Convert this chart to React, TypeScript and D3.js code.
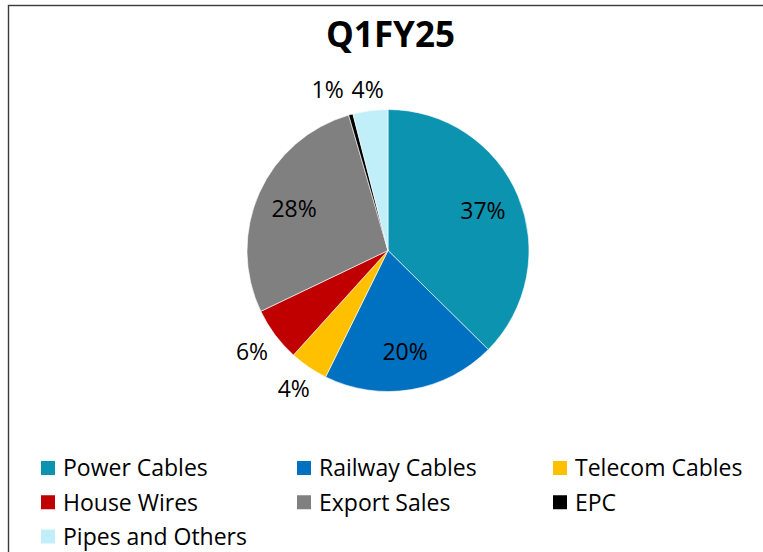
import React from "react";
import * as d3 from "d3";

const title = "Q1FY25";
const categories = [
  "Power Cables",
  "Railway Cables",
  "Telecom Cables",
  "House Wires",
  "Export Sales",
  "EPC",
  "Pipes and Others",
];
const shares = [37.4, 19.9, 4.4, 6.2, 27.6, 0.5, 4.0];
const colours = ["#0B93B0", "#0070C0", "#FFC000", "#C00000", "#808080", "#000000", "#C1EFF9"];

const width = 763;
const height = 552;
const cx = 388;
const cy = 250.5;
const radius = 141;
const font = "'Open Sans', 'Noto Sans', sans-serif";

type Label = { x: number; y: number; text: string; inside: boolean };

export default function App() {
  const total = d3.sum(shares);
  const pie = d3
    .pie<number>()
    .sort(null)
    .value((d) => d);
  const arcs = pie(shares);
  const arc = d3.arc<d3.PieArcDatum<number>>().innerRadius(0).outerRadius(radius);

  // labels: big slices inside, small ones just outside the rim
  const labels: Label[] = arcs.map((a) => {
    const pct = (a.data / total) * 100;
    const mid = (a.startAngle + a.endAngle) / 2;
    const s = Math.sin(mid);
    const c = Math.cos(mid);
    const inside = pct >= 10;
    const dist = inside ? radius * 0.73 : radius + Math.abs(s) * 16 + Math.abs(c) * 8 + 11;
    return { x: cx + dist * s, y: cy - dist * c, text: `${Math.round(pct)}%`, inside };
  });

  // push overlapping outside labels apart (tiny EPC slice next to Pipes)
  for (let i = labels.length - 2; i >= 0; i--) {
    const a = labels[i];
    const b = labels[i + 1];
    if (a.inside || b.inside) continue;
    if (Math.abs(a.y - b.y) < 18 && Math.abs(a.x - b.x) < 40) {
      a.x = b.x - 40;
      a.y = b.y;
    }
  }

  const colX = d3.scalePoint<number>().domain([0, 1, 2]).range([41, 553]);
  const rowY = d3.scalePoint<number>().domain([0, 1, 2]).range([468, 536.5]);

  return (
    <svg
      width={width}
      height={height}
      style={{ position: "absolute", left: 0, top: 0, background: "#fff" }}
    >
      <rect x={8.5} y={5.5} width={800} height={600} fill="none" stroke="#3a3a3a" strokeWidth={1.4} />
      <text
        x={390.5}
        y={47}
        textAnchor="middle"
        fontFamily={font}
        fontWeight={700}
        fontSize={35}
        fill="#000"
      >
        {title}
      </text>
      <g transform={`translate(${cx},${cy})`}>
        {arcs.map((a, i) => (
          <path key={i} d={arc(a) || ""} fill={colours[i]} stroke="#fff" strokeWidth={0.6} />
        ))}
      </g>
      <g fontFamily={font} fontSize={23} fill="#000" textAnchor="middle">
        {labels.map((l, i) => (
          <text key={i} x={l.x} y={l.y} dy="0.36em">
            {l.text}
          </text>
        ))}
      </g>
      <g fontFamily={font} fontSize={23} fill="#000">
        {categories.map((name, i) => {
          const x = colX(i % 3) as number;
          const y = rowY(Math.floor(i / 3)) as number;
          return (
            <g key={name} transform={`translate(${x},${y})`}>
              <rect x={0} y={-7} width={14} height={14} fill={colours[i]} />
              <text x={22} y={0} dy="0.36em">
                {name}
              </text>
            </g>
          );
        })}
      </g>
    </svg>
  );
}
